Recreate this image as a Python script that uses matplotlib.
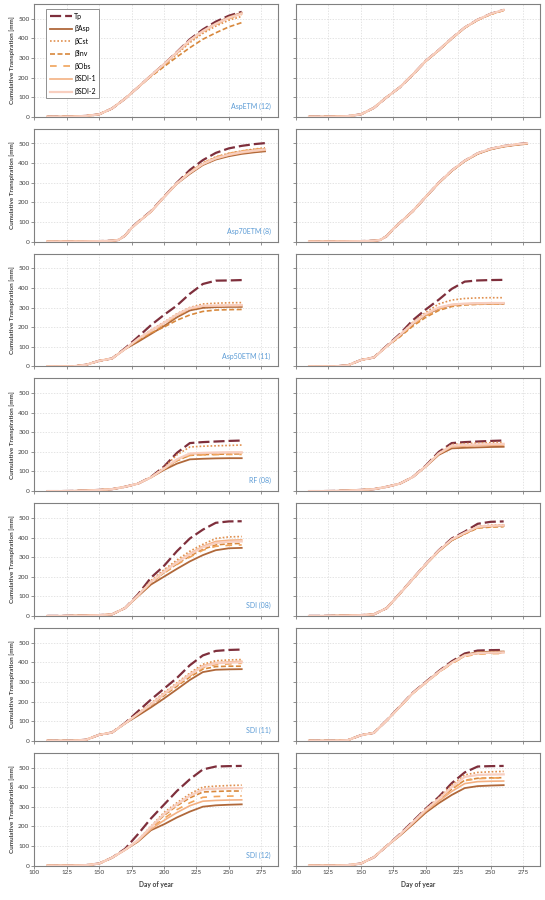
import matplotlib
matplotlib.use("Agg")
import matplotlib.pyplot as plt

plt.rcParams['font.family'] = ['Lato', 'DejaVu Sans']

days = [110, 120, 130, 140, 150, 160, 170, 180, 190, 200, 210, 220, 230, 240, 250, 260]
days_70 = [110, 120, 130, 140, 150, 160, 165, 170, 175, 180, 190, 200, 210, 220, 230, 240, 250, 260, 270, 278]

series_names = ['Tp', 'βAsp', 'βCst', 'βInv', 'βObs', 'βSDI-1', 'βSDI-2']

# each panel: rows = Tp, Asp, Cst, Inv, Obs, SDI-1, SDI-2
aspetm12_a = [
    [0, 0, 1, 4, 12, 42, 92, 150, 210, 268, 330, 395, 445, 485, 515, 535],
    [0, 0, 1, 4, 12, 42, 92, 150, 210, 268, 328, 390, 438, 475, 508, 530],
    [0, 0, 1, 4, 12, 42, 92, 150, 208, 262, 320, 378, 425, 462, 492, 512],
    [0, 0, 1, 4, 12, 42, 92, 150, 205, 255, 305, 352, 395, 428, 458, 480],
    [0, 0, 1, 4, 12, 42, 92, 150, 209, 265, 325, 385, 432, 470, 500, 522],
    [0, 0, 1, 4, 12, 42, 92, 150, 210, 267, 327, 388, 435, 472, 503, 525],
    [0, 0, 1, 4, 12, 42, 92, 150, 210, 268, 328, 390, 437, 474, 505, 527],
]
aspetm12_b = [
    [0, 0, 1, 3, 12, 45, 100, 150, 215, 285, 340, 400, 455, 495, 525, 545],
    [0, 0, 1, 3, 12, 45, 100, 150, 215, 284, 339, 399, 454, 494, 524, 544],
    [0, 0, 1, 3, 12, 45, 100, 150, 215, 284, 339, 399, 454, 494, 523, 543],
    [0, 0, 1, 3, 12, 45, 100, 150, 214, 283, 338, 398, 453, 493, 522, 542],
    [0, 0, 1, 3, 12, 45, 100, 150, 215, 284, 339, 399, 454, 494, 523, 543],
    [0, 0, 1, 3, 12, 45, 100, 150, 215, 285, 340, 400, 455, 495, 524, 544],
    [0, 0, 1, 3, 12, 45, 100, 150, 215, 285, 340, 400, 455, 495, 525, 545],
]
asp70_a = [
    [0, 0, 0, 1, 2, 4, 8, 30, 70, 100, 155, 228, 300, 365, 415, 452, 475, 488, 497, 502],
    [0, 0, 0, 1, 2, 4, 8, 30, 68, 98, 152, 225, 295, 345, 390, 418, 435, 447, 455, 460],
    [0, 0, 0, 1, 2, 4, 8, 30, 68, 98, 153, 227, 298, 355, 400, 432, 450, 462, 472, 478],
    [0, 0, 0, 1, 2, 4, 8, 30, 68, 98, 153, 227, 298, 353, 398, 428, 447, 460, 468, 473],
    [0, 0, 0, 1, 2, 4, 8, 30, 68, 98, 153, 227, 298, 355, 400, 430, 449, 462, 470, 475],
    [0, 0, 0, 1, 2, 4, 8, 30, 68, 98, 152, 226, 296, 349, 393, 422, 440, 452, 461, 466],
    [0, 0, 0, 1, 2, 4, 8, 30, 68, 98, 153, 226, 297, 351, 396, 425, 443, 456, 464, 470],
]
asp70_b = [
    [0, 0, 0, 1, 2, 4, 8, 28, 65, 95, 155, 228, 300, 362, 412, 450, 473, 487, 496, 502],
    [0, 0, 0, 1, 2, 4, 8, 28, 65, 95, 154, 227, 298, 360, 410, 447, 470, 484, 493, 498],
    [0, 0, 0, 1, 2, 4, 8, 28, 65, 95, 155, 228, 299, 361, 411, 449, 472, 486, 495, 500],
    [0, 0, 0, 1, 2, 4, 8, 28, 65, 95, 154, 227, 298, 360, 410, 448, 471, 485, 494, 499],
    [0, 0, 0, 1, 2, 4, 8, 28, 65, 95, 155, 228, 299, 361, 411, 449, 472, 486, 495, 500],
    [0, 0, 0, 1, 2, 4, 8, 28, 65, 95, 155, 228, 300, 362, 412, 450, 473, 487, 496, 501],
    [0, 0, 0, 1, 2, 4, 8, 28, 65, 95, 155, 228, 300, 362, 412, 450, 473, 487, 496, 501],
]
asp50_a = [
    [0, 0, 0, 8, 28, 40, 92, 150, 210, 262, 310, 370, 420, 437, 438, 440],
    [0, 0, 0, 8, 28, 40, 88, 125, 165, 205, 250, 285, 298, 302, 303, 303],
    [0, 0, 0, 8, 28, 40, 88, 140, 185, 225, 268, 300, 318, 322, 324, 325],
    [0, 0, 0, 8, 28, 40, 88, 132, 170, 200, 235, 262, 280, 287, 289, 290],
    [0, 0, 0, 8, 28, 40, 88, 135, 175, 215, 258, 292, 305, 308, 310, 310],
    [0, 0, 0, 8, 28, 40, 88, 138, 180, 220, 262, 295, 307, 309, 310, 310],
    [0, 0, 0, 8, 28, 40, 88, 140, 182, 222, 265, 297, 309, 310, 311, 312],
]
asp50_b = [
    [0, 0, 0, 5, 32, 45, 105, 165, 235, 290, 340, 395, 432, 438, 440, 441],
    [0, 0, 0, 5, 32, 45, 102, 155, 215, 262, 295, 313, 318, 320, 320, 320],
    [0, 0, 0, 5, 32, 45, 102, 160, 225, 275, 318, 338, 346, 349, 350, 350],
    [0, 0, 0, 5, 32, 45, 102, 150, 205, 250, 285, 305, 313, 316, 318, 318],
    [0, 0, 0, 5, 32, 45, 102, 155, 212, 258, 292, 310, 316, 318, 319, 319],
    [0, 0, 0, 5, 32, 45, 102, 158, 218, 265, 298, 314, 318, 320, 321, 321],
    [0, 0, 0, 5, 32, 45, 102, 160, 220, 268, 300, 315, 320, 322, 323, 323],
]
rf08_a = [
    [0, 0, 1, 3, 6, 10, 22, 38, 72, 125, 195, 245, 250, 253, 256, 258],
    [0, 0, 1, 3, 6, 10, 22, 38, 70, 108, 140, 162, 165, 167, 168, 168],
    [0, 0, 1, 3, 6, 10, 22, 38, 72, 120, 185, 225, 229, 231, 233, 235],
    [0, 0, 1, 3, 6, 10, 22, 38, 70, 112, 155, 183, 186, 188, 189, 190],
    [0, 0, 1, 3, 6, 10, 22, 38, 70, 112, 155, 182, 185, 186, 187, 187],
    [0, 0, 1, 3, 6, 10, 22, 38, 70, 114, 160, 190, 193, 195, 196, 196],
    [0, 0, 1, 3, 6, 10, 22, 38, 70, 115, 162, 192, 195, 197, 198, 198],
]
rf08_b = [
    [0, 0, 1, 3, 6, 10, 22, 38, 72, 130, 200, 245, 250, 253, 256, 258],
    [0, 0, 1, 3, 6, 10, 22, 38, 72, 125, 185, 218, 221, 223, 225, 226],
    [0, 0, 1, 3, 6, 10, 22, 38, 72, 128, 195, 238, 242, 245, 247, 248],
    [0, 0, 1, 3, 6, 10, 22, 38, 72, 126, 190, 228, 232, 234, 236, 237],
    [0, 0, 1, 3, 6, 10, 22, 38, 72, 126, 190, 229, 233, 235, 237, 238],
    [0, 0, 1, 3, 6, 10, 22, 38, 72, 126, 189, 226, 230, 232, 234, 235],
    [0, 0, 1, 3, 6, 10, 22, 38, 72, 127, 192, 232, 236, 238, 240, 241],
]
sdi08_a = [
    [0, 0, 1, 2, 4, 8, 40, 110, 195, 255, 330, 395, 440, 475, 482, 483],
    [0, 0, 1, 2, 4, 8, 40, 100, 160, 200, 240, 278, 310, 335, 345, 347],
    [0, 0, 1, 2, 4, 8, 40, 105, 180, 235, 285, 330, 365, 395, 403, 405],
    [0, 0, 1, 2, 4, 8, 40, 102, 170, 220, 265, 305, 340, 362, 368, 370],
    [0, 0, 1, 2, 4, 8, 40, 102, 168, 218, 262, 300, 335, 355, 360, 362],
    [0, 0, 1, 2, 4, 8, 40, 104, 175, 228, 275, 318, 355, 380, 386, 388],
    [0, 0, 1, 2, 4, 8, 40, 104, 173, 225, 272, 314, 350, 372, 378, 380],
]
sdi08_b = [
    [0, 0, 1, 2, 4, 8, 40, 115, 190, 265, 335, 395, 430, 470, 480, 482],
    [0, 0, 1, 2, 4, 8, 40, 113, 188, 262, 330, 385, 420, 452, 458, 460],
    [0, 0, 1, 2, 4, 8, 40, 114, 189, 264, 333, 390, 425, 457, 463, 465],
    [0, 0, 1, 2, 4, 8, 40, 113, 188, 262, 330, 386, 418, 448, 453, 455],
    [0, 0, 1, 2, 4, 8, 40, 113, 188, 263, 331, 387, 420, 450, 456, 458],
    [0, 0, 1, 2, 4, 8, 40, 114, 189, 264, 333, 390, 424, 455, 460, 462],
    [0, 0, 1, 2, 4, 8, 40, 114, 189, 264, 333, 390, 424, 455, 460, 462],
]
sdi11_a = [
    [0, 0, 0, 5, 30, 42, 90, 150, 210, 265, 320, 385, 435, 458, 463, 465],
    [0, 0, 0, 5, 30, 42, 88, 128, 170, 215, 262, 310, 350, 362, 364, 365],
    [0, 0, 0, 5, 30, 42, 88, 140, 190, 245, 295, 345, 390, 408, 412, 414],
    [0, 0, 0, 5, 30, 42, 88, 135, 180, 230, 278, 325, 365, 378, 380, 380],
    [0, 0, 0, 5, 30, 42, 88, 137, 183, 235, 283, 330, 372, 388, 392, 395],
    [0, 0, 0, 5, 30, 42, 88, 138, 187, 240, 290, 340, 382, 398, 402, 405],
    [0, 0, 0, 5, 30, 42, 88, 137, 185, 238, 288, 337, 378, 395, 398, 400],
]
sdi11_b = [
    [0, 0, 0, 3, 28, 40, 105, 175, 245, 300, 355, 405, 445, 460, 462, 463],
    [0, 0, 0, 3, 28, 40, 104, 173, 243, 298, 352, 400, 438, 452, 454, 455],
    [0, 0, 0, 3, 28, 40, 104, 173, 243, 297, 351, 398, 436, 449, 451, 452],
    [0, 0, 0, 3, 28, 40, 104, 172, 242, 296, 349, 395, 432, 445, 447, 448],
    [0, 0, 0, 3, 28, 40, 104, 172, 241, 295, 348, 393, 430, 442, 444, 445],
    [0, 0, 0, 3, 28, 40, 104, 173, 243, 297, 351, 398, 435, 447, 449, 450],
    [0, 0, 0, 3, 28, 40, 104, 173, 243, 297, 351, 398, 435, 447, 449, 450],
]
sdi12_a = [
    [0, 0, 0, 2, 10, 40, 85, 160, 240, 310, 380, 440, 490, 505, 507, 508],
    [0, 0, 0, 2, 10, 40, 80, 122, 180, 210, 245, 275, 300, 307, 310, 312],
    [0, 0, 0, 2, 10, 40, 80, 130, 200, 270, 320, 365, 400, 405, 408, 410],
    [0, 0, 0, 2, 10, 40, 80, 128, 195, 255, 305, 345, 375, 378, 380, 380],
    [0, 0, 0, 2, 10, 40, 80, 126, 190, 240, 285, 320, 348, 352, 354, 355],
    [0, 0, 0, 2, 10, 40, 80, 125, 185, 230, 270, 305, 328, 332, 334, 335],
    [0, 0, 0, 2, 10, 40, 80, 129, 197, 262, 312, 355, 388, 392, 394, 395],
]
sdi12_b = [
    [0, 0, 0, 2, 10, 42, 100, 160, 225, 290, 350, 420, 475, 505, 507, 508],
    [0, 0, 0, 2, 10, 42, 100, 152, 210, 270, 318, 360, 395, 405, 408, 410],
    [0, 0, 0, 2, 10, 42, 100, 158, 222, 288, 345, 410, 462, 475, 478, 480],
    [0, 0, 0, 2, 10, 42, 100, 155, 218, 282, 335, 390, 435, 445, 447, 448],
    [0, 0, 0, 2, 10, 42, 100, 155, 218, 282, 335, 390, 433, 443, 446, 448],
    [0, 0, 0, 2, 10, 42, 100, 154, 215, 277, 328, 378, 418, 428, 430, 431],
    [0, 0, 0, 2, 10, 42, 100, 157, 220, 285, 340, 400, 452, 462, 464, 465],
]

panel_labels = ['AspETM (12)', 'Asp70ETM (8)', 'Asp50ETM (11)', 'RF (08)',
                'SDI (08)', 'SDI (11)', 'SDI (12)']
panel_days = [days, days_70, days, days, days, days, days]
left_data = [aspetm12_a, asp70_a, asp50_a, rf08_a, sdi08_a, sdi11_a, sdi12_a]
right_data = [aspetm12_b, asp70_b, asp50_b, rf08_b, sdi08_b, sdi11_b, sdi12_b]

colors = ['#7e2f3c', '#b0683a', '#e0904f', '#d8883c', '#f0a35a', '#f4b183', '#f8cfc0']
styles = [(0, (5, 1.8)), '-', (0, (1, 1.2)), (0, (3, 1.5)), (0, (4, 4)), '-', '-']
widths = [1.6, 1.3, 1.2, 1.2, 1.2, 1.2, 1.6]


def draw_panel(ax, x, rows, show_ylab, show_xlab):
    for i, y in enumerate(rows):
        ax.plot(x, y, color=colors[i], linestyle=styles[i], lw=widths[i],
                label=series_names[i], zorder=3 + i)
    ax.set_xlim(100, 288)
    ax.set_ylim(0, 575)
    ax.set_xticks(range(100, 276, 25))
    ax.set_yticks(range(0, 501, 100))
    ax.grid(True, color='#d9d9d9', linestyle=(0, (2, 2)), lw=0.5)
    ax.set_axisbelow(True)
    for s in ax.spines.values():
        s.set_color('#808080')
        s.set_linewidth(0.8)
    ax.tick_params(direction='out', length=2, width=0.6, color='#808080',
                   labelsize=4.6, pad=1.5, labelcolor='#404040')
    if not show_ylab:
        ax.tick_params(labelleft=False)
    else:
        ax.set_ylabel('Cumulative Transpiration [mm]', fontsize=4.6,
                      fontweight='bold', labelpad=2, color='#404040')
    if not show_xlab:
        ax.tick_params(labelbottom=False)
    else:
        ax.set_xlabel('Day of year', fontsize=4.8, fontweight='bold',
                      labelpad=4, color='#404040')


fig = plt.figure(figsize=(5.45, 9), dpi=100)
W, H = 545.0, 900.0
for r in range(7):
    top = 4 + r * 124.8
    bottom = top + 112.7
    axl = fig.add_axes([34.3 / W, 1 - bottom / H, 243.7 / W, 112.7 / H])
    axr = fig.add_axes([296 / W, 1 - bottom / H, 244 / W, 112.7 / H])
    draw_panel(axl, panel_days[r], left_data[r], True, r == 6)
    draw_panel(axr, panel_days[r], right_data[r], False, r == 6)
    axl.text(0.97, 0.06, panel_labels[r], transform=axl.transAxes,
             ha='right', va='bottom', fontsize=5, color='#5b9bd5')
    if r == 0:
        leg = axl.legend(loc='upper left', fontsize=5, handlelength=3.2,
                         labelspacing=0.8, borderpad=0.5, handletextpad=0.3,
                         fancybox=False, framealpha=1,
                         bbox_to_anchor=(0.035, 0.985))
        leg.get_frame().set_edgecolor('#808080')
        leg.get_frame().set_linewidth(0.6)

fig.savefig('out.png', dpi=100)
